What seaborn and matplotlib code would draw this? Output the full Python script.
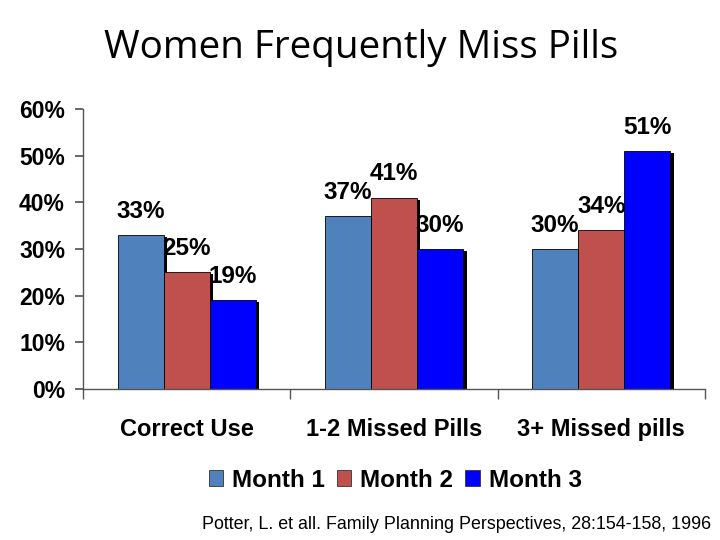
import matplotlib
matplotlib.use("Agg")
import matplotlib.pyplot as plt
import matplotlib.patheffects as pe
import seaborn as sns
import pandas as pd
from matplotlib.ticker import FixedLocator, NullFormatter

categories = ["Correct Use", "1-2 Missed Pills", "3+ Missed pills"]
months = ["Month 1", "Month 2", "Month 3"]
month1 = [33, 37, 30]
month2 = [25, 41, 34]
month3 = [19, 30, 51]
yticks = [0, 10, 20, 30, 40, 50, 60]
colors = ["#4F81BD", "#C0504D", "#0000FF"]
title = "Women Frequently Miss Pills"
source = "Potter, L. et all. Family Planning Perspectives, 28:154-158, 1996"

rows = []
for m, vals in zip(months, [month1, month2, month3]):
    for c, v in zip(categories, vals):
        rows.append({"cat": c, "month": m, "val": v})
df = pd.DataFrame(rows)

sns.set_theme(style="white")
plt.rcParams["font.family"] = ["Liberation Sans", "DejaVu Sans"]
plt.rcParams["text.color"] = "black"
plt.rcParams["xtick.color"] = "black"
plt.rcParams["ytick.color"] = "black"

fig = plt.figure(figsize=(7.2, 5.4), dpi=100)
ax = fig.add_axes([0.1153, 0.2796, 0.979 - 0.1153, 0.798 - 0.2796])

sns.barplot(data=df, x="cat", y="val", hue="month", order=categories,
            hue_order=months, palette=colors, saturation=1, width=0.667,
            gap=0, edgecolor="black", linewidth=0.6, ax=ax, legend=True)

for p in ax.patches:
    p.set_path_effects([pe.SimplePatchShadow(offset=(2.5, -1.5), shadow_rgbFace="black", alpha=1.0), pe.Normal()])

for cont in ax.containers:
    ax.bar_label(cont, labels=[f"{int(v)}%" for v in cont.datavalues], padding=9,
                 fontsize=17.5, fontweight="bold", color="black")

ax.set_xlim(-0.5, 2.5)
ax.set_ylim(0, 60)
ax.set_yticks(yticks)
ax.set_yticklabels([f"{t}%" for t in yticks], fontsize=16.5, fontweight="bold", color="black")
ax.set_xticks(range(len(categories)))
ax.set_xticklabels(categories, fontsize=17, fontweight="bold", color="black")
ax.xaxis.set_minor_locator(FixedLocator([-0.5, 0.5, 1.5, 2.5]))
ax.xaxis.set_minor_formatter(NullFormatter())
ax.tick_params(axis="x", which="major", length=0, pad=21)
ax.tick_params(axis="x", which="minor", length=7, direction="out", color="#555555", bottom=True)
ax.tick_params(axis="y", length=6, direction="out", color="#555555", left=True, pad=7)
ax.set_xlabel("")
ax.set_ylabel("")
for s in ["top", "right"]:
    ax.spines[s].set_visible(False)
for s in ["left", "bottom"]:
    ax.spines[s].set_color("#555555")
    ax.spines[s].set_linewidth(1.0)

handles, labels = ax.get_legend_handles_labels()
ax.get_legend().remove()
leg = fig.legend(handles, labels, loc="center", bbox_to_anchor=(0.549, 0.111), ncol=3,
                 frameon=False, handlelength=0.58, handleheight=0.58, handletextpad=0.37,
                 columnspacing=0.5, prop={"size": 17.5, "weight": "bold"})
for h in leg.legend_handles:
    h.set_path_effects([])
    h.set_edgecolor("#333333")
    h.set_linewidth(0.6)

fig.text(0.501, 0.912, title, ha="center", va="center", fontsize=27.8,
         family=["Open Sans", "DejaVu Sans"], color="black")
fig.text(0.987, 0.028, source, ha="right", va="center", fontsize=12.9, color="black")

fig.savefig("out.png", dpi=100)
